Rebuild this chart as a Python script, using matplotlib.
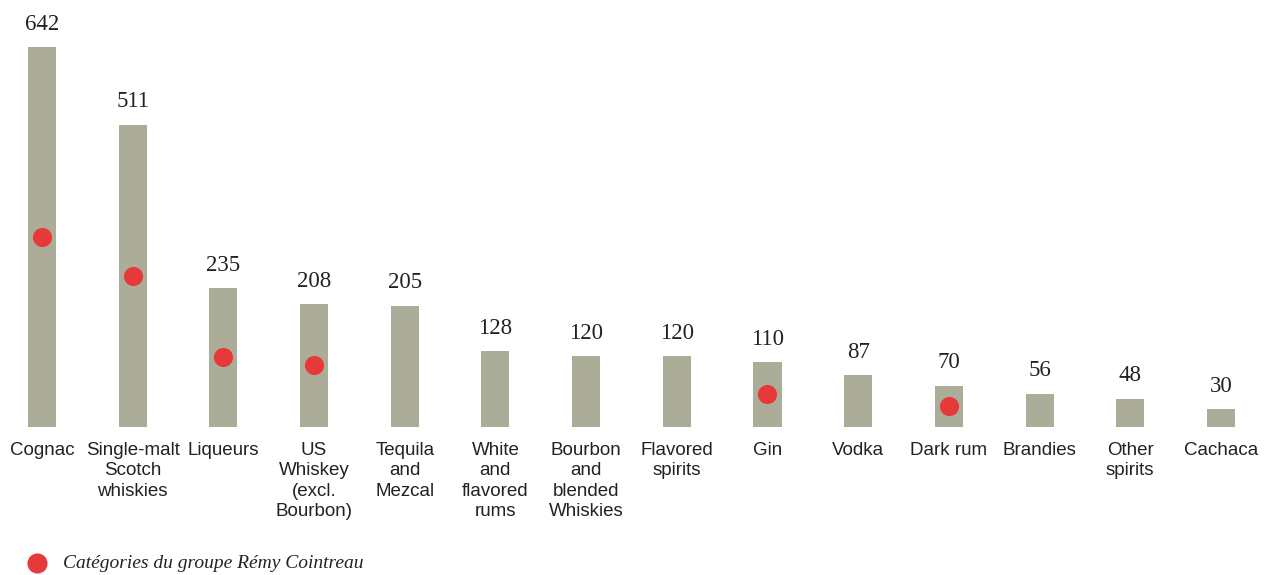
import matplotlib
matplotlib.use("Agg")
import matplotlib.pyplot as plt

categories = ["Cognac", "Single-malt\nScotch\nwhiskies", "Liqueurs", "US\nWhiskey\n(excl.\nBourbon)",
              "Tequila\nand\nMezcal", "White\nand\nflavored\nrums", "Bourbon\nand\nblended\nWhiskies",
              "Flavored\nspirits", "Gin", "Vodka", "Dark rum", "Brandies", "Other\nspirits", "Cachaca"]
values = [642, 511, 235, 208, 205, 128, 120, 120, 110, 87, 70, 56, 48, 30]
remy_flags = [1, 1, 1, 1, 0, 0, 0, 0, 1, 0, 1, 0, 0, 0]
legend_label = "Catégories du groupe Rémy Cointreau"

BAR = "#ACAD98"
RED = "#E8393A"
TXT = "#222222"

fig = plt.figure(figsize=(12.72, 5.75), dpi=100)
ax = fig.add_axes([0, 0.2574, 1, 0.7206])
x = list(range(len(values)))
ax.bar(x, values, width=0.31, color=BAR, zorder=1)
ax.set_xlim(-0.463, 13.563)
ax.set_ylim(0, 700)
ax.axis("off")

for i, v in enumerate(values):
    ax.annotate(str(v), (i, v), xytext=(0, 12.5), textcoords="offset points",
                ha="center", va="baseline", fontsize=16.5, family="Liberation Serif", color=TXT)
    ax.annotate(categories[i], (i, 0), xycoords=("data", "axes fraction"),
                xytext=(0, -10.5), textcoords="offset points", ha="center", va="top",
                fontsize=13.5, family="Liberation Sans", color=TXT, linespacing=1.27,
                multialignment="center")

mx = [i for i, f in enumerate(remy_flags) if f]
my = [values[i] / 2 for i in mx]
ax.scatter(mx, my, s=190, color=RED, zorder=3, linewidths=0)

fig.add_artist(plt.Line2D([37 / 1272], [12 / 575], marker="o", markersize=13.5,
                          color=RED, transform=fig.transFigure, linestyle="none"))
fig.text(63 / 1272, 12 / 575, legend_label, ha="left", va="center", fontsize=14,
         family="Liberation Serif", style="italic", color=TXT)

fig.savefig("out.png", dpi=100)
